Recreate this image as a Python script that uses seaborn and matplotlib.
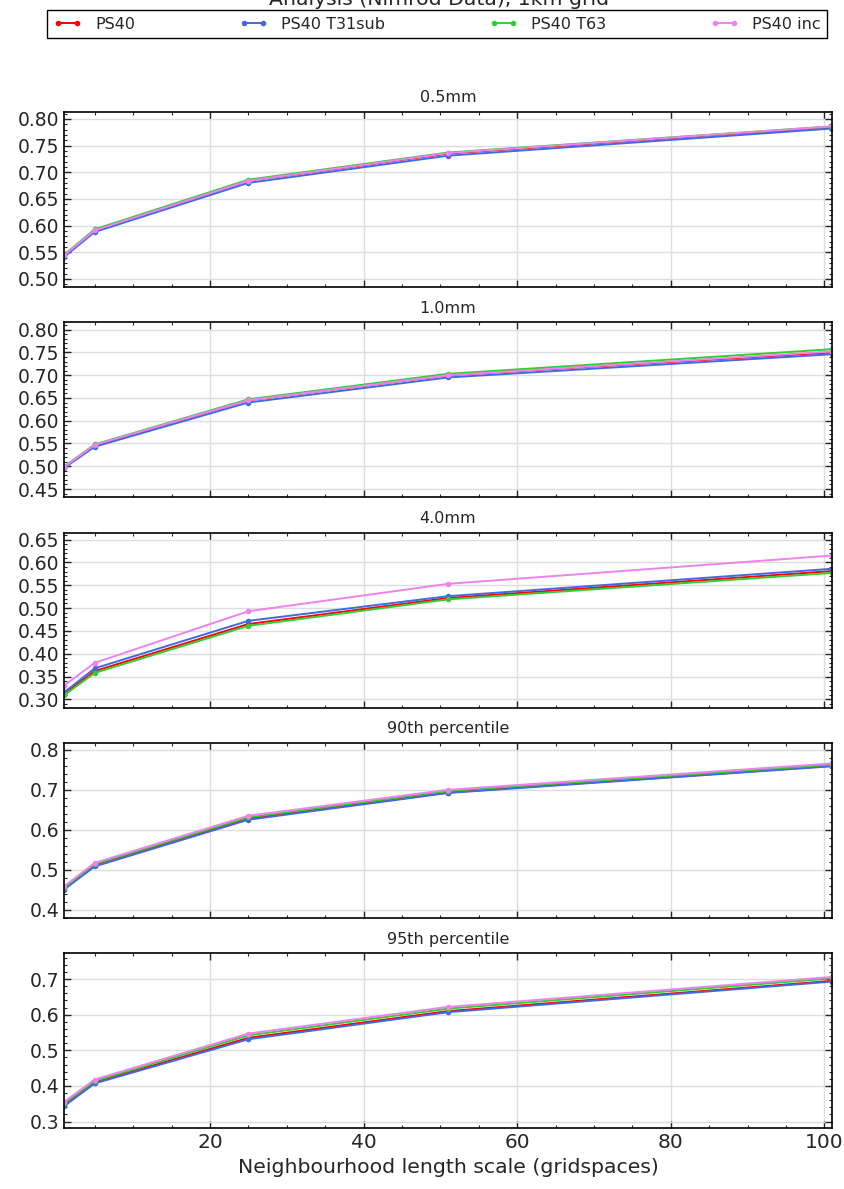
import numpy as np
import pandas as pd
import seaborn as sns
import matplotlib
matplotlib.use("Agg")
import matplotlib.pyplot as plt
from matplotlib.lines import Line2D
from matplotlib.ticker import AutoMinorLocator, MultipleLocator

# neighbourhood sizes (gridspaces)
nbhood = [1, 5, 25, 51, 101]

runs = ["PS40", "PS40 T31sub", "PS40 T63", "PS40 inc"]
colours = {"PS40": "red", "PS40 T31sub": "royalblue",
           "PS40 T63": "limegreen", "PS40 inc": "violet"}

# 0.5mm threshold
thr05_ps40 = [0.544, 0.591, 0.684, 0.735, 0.785]
thr05_t31 = [0.541, 0.588, 0.680, 0.731, 0.782]
thr05_t63 = [0.545, 0.593, 0.686, 0.737, 0.786]
thr05_inc = [0.544, 0.591, 0.684, 0.736, 0.786]

# 1.0mm threshold
thr10_ps40 = [0.498, 0.546, 0.645, 0.700, 0.750]
thr10_t31 = [0.496, 0.543, 0.640, 0.695, 0.746]
thr10_t63 = [0.499, 0.548, 0.647, 0.703, 0.757]
thr10_inc = [0.498, 0.547, 0.645, 0.700, 0.752]

# 4.0mm threshold
thr40_ps40 = [0.312, 0.362, 0.465, 0.522, 0.581]
thr40_t31 = [0.315, 0.368, 0.472, 0.526, 0.586]
thr40_t63 = [0.309, 0.358, 0.461, 0.519, 0.577]
thr40_inc = [0.330, 0.380, 0.493, 0.553, 0.615]

# 90th percentile
p90_ps40 = [0.453, 0.512, 0.628, 0.693, 0.760]
p90_t31 = [0.450, 0.508, 0.625, 0.692, 0.759]
p90_t63 = [0.455, 0.514, 0.631, 0.697, 0.763]
p90_inc = [0.458, 0.517, 0.635, 0.700, 0.766]

# 95th percentile
p95_ps40 = [0.347, 0.410, 0.535, 0.610, 0.695]
p95_t31 = [0.343, 0.407, 0.531, 0.607, 0.693]
p95_t63 = [0.351, 0.414, 0.542, 0.617, 0.702]
p95_inc = [0.355, 0.418, 0.547, 0.622, 0.706]

titles = ["0.5mm", "1.0mm", "4.0mm", "90th percentile", "95th percentile"]
panel_data = [
    [thr05_ps40, thr05_t31, thr05_t63, thr05_inc],
    [thr10_ps40, thr10_t31, thr10_t63, thr10_inc],
    [thr40_ps40, thr40_t31, thr40_t63, thr40_inc],
    [p90_ps40, p90_t31, p90_t63, p90_inc],
    [p95_ps40, p95_t31, p95_t63, p95_inc],
]
ylims = [(0.485, 0.813), (0.432, 0.816), (0.282, 0.665), (0.379, 0.817), (0.281, 0.772)]
ysteps = [0.05, 0.05, 0.05, 0.1, 0.1]
yfmt = ["%.2f", "%.2f", "%.2f", "%.1f", "%.1f"]


def build_frame(series):
    rows = []
    for run, vals in zip(runs, series):
        for n, v in zip(nbhood, vals):
            rows.append({"Neighbourhood": n, "FSS": v, "Run": run})
    return pd.DataFrame(rows)


sns.set_style("white")
plt.rcParams["font.family"] = ["DejaVu Sans"]
plt.rcParams["xtick.direction"] = "in"
plt.rcParams["ytick.direction"] = "in"

fig, axes = plt.subplots(5, 1, figsize=(8.45, 11.89), dpi=100, sharex=True)
fig.subplots_adjust(left=64 / 845, right=832 / 845, top=1 - 112 / 1189,
                    bottom=1 - 1128.3 / 1189, hspace=0.203)

for ax, title, series, ylim, ystep, fmt in zip(axes, titles, panel_data,
                                               ylims, ysteps, yfmt):
    df = build_frame(series)
    sns.lineplot(data=df, x="Neighbourhood", y="FSS", hue="Run",
                 hue_order=runs, palette=colours, marker="o", markersize=4,
                 markeredgewidth=0, linewidth=1.4, ax=ax, legend=False)
    ax.set_title(title, fontsize=11.5, pad=7)
    ax.set_xlim(1, 101)
    ax.set_ylim(*ylim)
    ax.yaxis.set_major_locator(MultipleLocator(ystep))
    ax.yaxis.set_major_formatter(plt.FormatStrFormatter(fmt))
    ax.xaxis.set_major_locator(MultipleLocator(20))
    ax.xaxis.set_minor_locator(AutoMinorLocator())
    ax.yaxis.set_minor_locator(AutoMinorLocator())
    ax.grid(True, which="major", color="#dddddd", linewidth=1)
    ax.tick_params(which="both", direction="in", top=True, right=True,
                   bottom=True, left=True, labelsize=13.5)
    ax.tick_params(which="major", length=5, width=1)
    ax.tick_params(which="minor", length=2.5, width=0.8)
    for s in ax.spines.values():
        s.set_color("black")
        s.set_linewidth(1.2)
    ax.set_ylabel("")
    ax.set_xlabel("")

axes[-1].set_xlabel("Neighbourhood length scale (gridspaces)", fontsize=14.7)
axes[-1].tick_params(axis="x", labelsize=14.5)

handles = [Line2D([0], [0], color=colours[r], marker="o", markersize=4,
                  markeredgewidth=0, linewidth=1.4) for r in runs]
fig.legend(handles, runs, ncol=4, mode="expand", numpoints=2,
           loc="lower left", fontsize=11.5, frameon=True, fancybox=False,
           edgecolor="black", framealpha=1, handlelength=1.8,
           borderaxespad=0,
           bbox_to_anchor=(47 / 845, 1 - 38 / 1189, 780 / 845, 30 / 1189))
fig.text(0.52, 1 - 5 / 1189, "Analysis (Nimrod Data), 1km grid",
         ha="center", va="baseline", fontsize=14.7)

fig.savefig("out.png", dpi=100)
